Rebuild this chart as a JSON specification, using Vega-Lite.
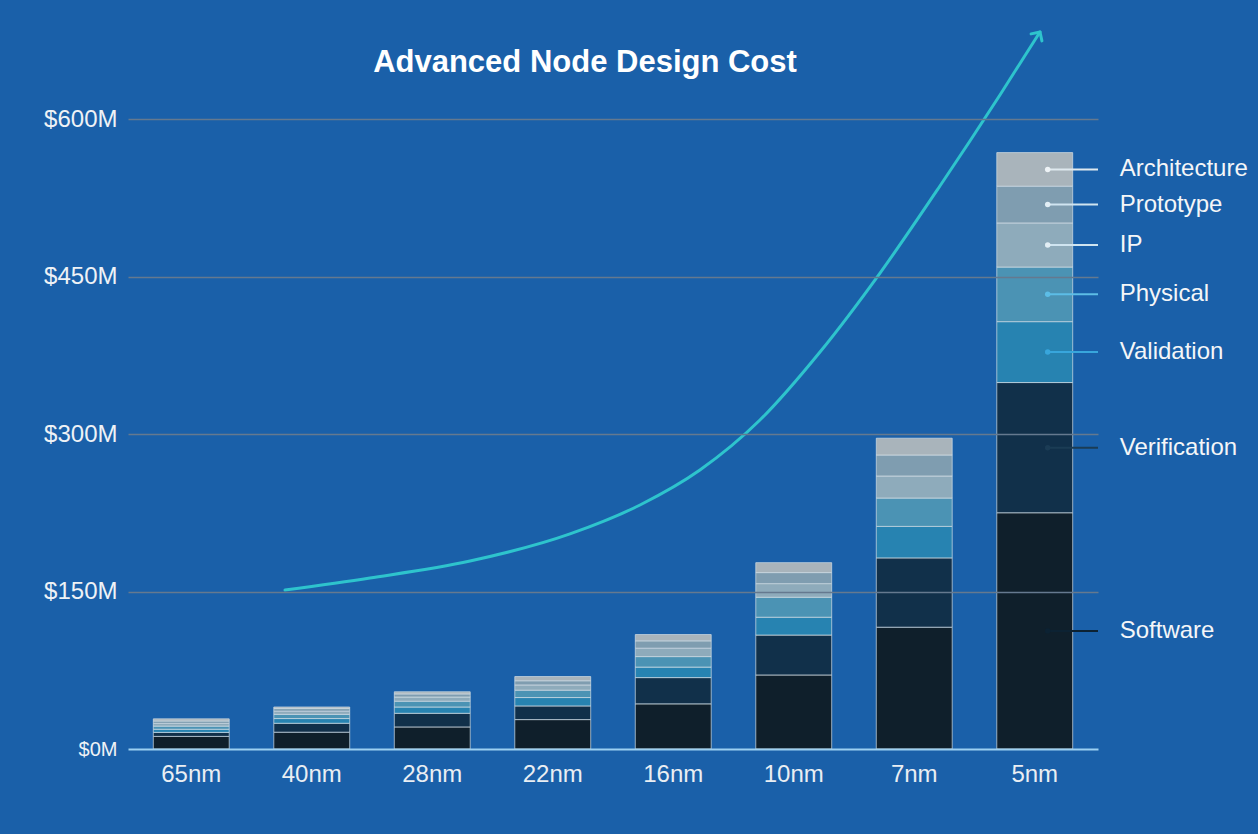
{
  "$schema": "https://vega.github.io/schema/vega-lite/v6.json",
  "width": 970,
  "height": 630,
  "autosize": {"type": "none"},
  "padding": {"left": 128, "top": 119, "right": 160, "bottom": 85},
  "background": "#1a60a9",
  "config": {"view": {"stroke": null}, "font": "Liberation Sans", "text": {"font": "Liberation Sans"}},
  "title": {"text": "Advanced Node Design Cost", "fontSize": 31, "fontWeight": "bold", "color": "#ffffff", "font": "Liberation Sans", "anchor": "middle", "dx": -28, "offset": -77, "baseline": "alphabetic"},
  "datasets": {
    "costs": [
      {"node": "65nm", "segment": "Software", "cost": 12},
      {"node": "65nm", "segment": "Verification", "cost": 3.8},
      {"node": "65nm", "segment": "Validation", "cost": 3},
      {"node": "65nm", "segment": "Physical", "cost": 3},
      {"node": "65nm", "segment": "IP", "cost": 2.6},
      {"node": "65nm", "segment": "Prototype", "cost": 2.3},
      {"node": "65nm", "segment": "Architecture", "cost": 2},
      {"node": "40nm", "segment": "Software", "cost": 16},
      {"node": "40nm", "segment": "Verification", "cost": 8.5},
      {"node": "40nm", "segment": "Validation", "cost": 4.5},
      {"node": "40nm", "segment": "Physical", "cost": 4},
      {"node": "40nm", "segment": "IP", "cost": 3},
      {"node": "40nm", "segment": "Prototype", "cost": 2.5},
      {"node": "40nm", "segment": "Architecture", "cost": 1.5},
      {"node": "28nm", "segment": "Software", "cost": 21},
      {"node": "28nm", "segment": "Verification", "cost": 13},
      {"node": "28nm", "segment": "Validation", "cost": 6},
      {"node": "28nm", "segment": "Physical", "cost": 5.5},
      {"node": "28nm", "segment": "IP", "cost": 4},
      {"node": "28nm", "segment": "Prototype", "cost": 3},
      {"node": "28nm", "segment": "Architecture", "cost": 2},
      {"node": "22nm", "segment": "Software", "cost": 28},
      {"node": "22nm", "segment": "Verification", "cost": 13},
      {"node": "22nm", "segment": "Validation", "cost": 8},
      {"node": "22nm", "segment": "Physical", "cost": 7},
      {"node": "22nm", "segment": "IP", "cost": 5},
      {"node": "22nm", "segment": "Prototype", "cost": 4},
      {"node": "22nm", "segment": "Architecture", "cost": 4},
      {"node": "16nm", "segment": "Software", "cost": 43},
      {"node": "16nm", "segment": "Verification", "cost": 25},
      {"node": "16nm", "segment": "Validation", "cost": 10},
      {"node": "16nm", "segment": "Physical", "cost": 10},
      {"node": "16nm", "segment": "IP", "cost": 8},
      {"node": "16nm", "segment": "Prototype", "cost": 7},
      {"node": "16nm", "segment": "Architecture", "cost": 6},
      {"node": "10nm", "segment": "Software", "cost": 70.5},
      {"node": "10nm", "segment": "Verification", "cost": 38},
      {"node": "10nm", "segment": "Validation", "cost": 17},
      {"node": "10nm", "segment": "Physical", "cost": 19},
      {"node": "10nm", "segment": "IP", "cost": 13},
      {"node": "10nm", "segment": "Prototype", "cost": 10.5},
      {"node": "10nm", "segment": "Architecture", "cost": 9.5},
      {"node": "7nm", "segment": "Software", "cost": 116},
      {"node": "7nm", "segment": "Verification", "cost": 66},
      {"node": "7nm", "segment": "Validation", "cost": 30},
      {"node": "7nm", "segment": "Physical", "cost": 27},
      {"node": "7nm", "segment": "IP", "cost": 21},
      {"node": "7nm", "segment": "Prototype", "cost": 20},
      {"node": "7nm", "segment": "Architecture", "cost": 16},
      {"node": "5nm", "segment": "Software", "cost": 225},
      {"node": "5nm", "segment": "Verification", "cost": 124},
      {"node": "5nm", "segment": "Validation", "cost": 58},
      {"node": "5nm", "segment": "Physical", "cost": 52},
      {"node": "5nm", "segment": "IP", "cost": 42},
      {"node": "5nm", "segment": "Prototype", "cost": 35},
      {"node": "5nm", "segment": "Architecture", "cost": 32}
    ],
    "trend": [
      {"nodeIndex": 0.79, "cost": 151.4},
      {"nodeIndex": 1.496, "cost": 162.9},
      {"nodeIndex": 2.328, "cost": 179.0},
      {"nodeIndex": 3.159, "cost": 204.8},
      {"nodeIndex": 3.741, "cost": 232.4},
      {"nodeIndex": 4.239, "cost": 265.7},
      {"nodeIndex": 4.738, "cost": 313.3},
      {"nodeIndex": 5.237, "cost": 378.1},
      {"nodeIndex": 5.736, "cost": 453.3},
      {"nodeIndex": 6.234, "cost": 536.2},
      {"nodeIndex": 6.733, "cost": 622.9},
      {"nodeIndex": 7.066, "cost": 682.9}
    ]
  },
  "layer": [
    {
      "data": {"name": "costs"},
      "transform": [
        {"calculate": "indexof(['Software','Verification','Validation','Physical','IP','Prototype','Architecture'], datum.segment)", "as": "rank"},
        {"stack": "cost", "groupby": ["node"], "sort": [{"field": "rank", "order": "ascending"}], "as": ["c0", "c1"]},
        {"calculate": "(datum.c0 + datum.c1) / 2", "as": "mid"}
      ],
      "layer": [
        {
          "mark": {"type": "bar", "stroke": "#d3dee6", "strokeWidth": 1, "strokeOpacity": 0.7},
          "encoding": {
            "x": {
              "field": "node", "type": "nominal",
              "sort": ["65nm", "40nm", "28nm", "22nm", "16nm", "10nm", "7nm", "5nm"],
              "scale": {"paddingInner": 0.37, "paddingOuter": 0.21},
              "axis": {"title": null, "labelAngle": 0, "labelFontSize": 24, "labelColor": "#e9eef3", "labelPadding": 13, "ticks": false, "domain": false, "labelFont": "Liberation Sans"}
            },
            "y": {
              "field": "c0", "type": "quantitative",
              "scale": {"domain": [0, 600], "nice": false},
              "axis": {
                "title": null,
                "values": [0, 150, 300, 450, 600],
                "labelExpr": "'$' + datum.value + 'M'",
                "labelFontSize": {"condition": {"test": "datum.value === 0", "value": 20}, "value": 24},
                "labelFont": "Liberation Sans",
                "labelColor": "#eef2f6",
                "labelPadding": 11,
                "ticks": false,
                "domain": false,
                "grid": true,
                "gridColor": {"condition": {"test": "datum.value === 0", "value": "#9cd0f2"}, "value": "#65798f"},
                "gridWidth": {"condition": {"test": "datum.value === 0", "value": 2}, "value": 1.5},
                "zindex": 1
              }
            },
            "y2": {"field": "c1"},
            "color": {
              "field": "segment", "type": "nominal",
              "scale": {
                "domain": ["Software", "Verification", "Validation", "Physical", "IP", "Prototype", "Architecture"],
                "range": ["#0f1f2b", "#11304a", "#2783b1", "#4b93b4", "#8eabbb", "#7f9db0", "#a9b4bb"]
              },
              "legend": null
            }
          }
        },
        {
          "transform": [{"filter": "datum.node === '5nm'"}],
          "mark": {"type": "text", "align": "left", "baseline": "middle", "dx": 85, "fontSize": 24, "color": "#f4f6f8", "font": "Liberation Sans"},
          "encoding": {
            "x": {"field": "node", "type": "nominal", "sort": ["65nm", "40nm", "28nm", "22nm", "16nm", "10nm", "7nm", "5nm"]},
            "y": {"field": "mid", "type": "quantitative", "scale": {"domain": [0, 600], "nice": false}},
            "text": {"field": "segment"}
          }
        }
      ]
    },
    {
      "layer": [
        {
          "data": {"name": "costs"},
          "transform": [
            {"calculate": "indexof(['Software','Verification','Validation','Physical','IP','Prototype','Architecture'], datum.segment)", "as": "rank"},
            {"stack": "cost", "groupby": ["node"], "sort": [{"field": "rank", "order": "ascending"}], "as": ["c0", "c1"]},
            {"calculate": "(datum.c0 + datum.c1) / 2", "as": "mid"},
            {"filter": "datum.node === '5nm'"}
          ],
          "mark": {"type": "rule", "strokeWidth": 2},
          "encoding": {
            "x": {"datum": 7.13, "type": "quantitative", "scale": {"domain": [-0.515, 7.548], "nice": false, "zero": false}, "axis": null},
            "x2": {"datum": 7.548},
            "y": {"field": "mid", "type": "quantitative", "scale": {"domain": [0, 600], "nice": false}},
            "stroke": {
              "field": "segment", "type": "nominal",
              "scale": {
                "domain": ["Software", "Verification", "Validation", "Physical", "IP", "Prototype", "Architecture"],
                "range": ["#0c2233", "#1b3c55", "#38a6dc", "#5cbde6", "#cfe4f0", "#cfe4f0", "#dfe9ef"]
              },
              "legend": null
            }
          }
        },
        {
          "data": {"name": "costs"},
          "transform": [
            {"calculate": "indexof(['Software','Verification','Validation','Physical','IP','Prototype','Architecture'], datum.segment)", "as": "rank"},
            {"stack": "cost", "groupby": ["node"], "sort": [{"field": "rank", "order": "ascending"}], "as": ["c0", "c1"]},
            {"calculate": "(datum.c0 + datum.c1) / 2", "as": "mid"},
            {"filter": "datum.node === '5nm'"}
          ],
          "mark": {"type": "point", "filled": true, "size": 30, "opacity": 1},
          "encoding": {
            "x": {"datum": 7.13, "type": "quantitative", "scale": {"domain": [-0.515, 7.548], "nice": false, "zero": false}, "axis": null},
            "y": {"field": "mid", "type": "quantitative", "scale": {"domain": [0, 600], "nice": false}},
            "fill": {
              "field": "segment", "type": "nominal",
              "scale": {
                "domain": ["Software", "Verification", "Validation", "Physical", "IP", "Prototype", "Architecture"],
                "range": ["#0c2233", "#1b3c55", "#38a6dc", "#5cbde6", "#e2eef5", "#e2eef5", "#eef3f6"]
              },
              "legend": null
            }
          }
        },
        {
          "data": {"name": "trend"},
          "mark": {"type": "line", "interpolate": "monotone", "strokeWidth": 3, "color": "#2ec4cd", "strokeCap": "round"},
          "encoding": {
            "x": {"field": "nodeIndex", "type": "quantitative", "scale": {"domain": [-0.515, 7.548], "nice": false, "zero": false}, "axis": null},
            "y": {"field": "cost", "type": "quantitative", "scale": {"domain": [0, 600], "nice": false}}
          }
        },
        {
          "data": {"name": "trend"},
          "transform": [{"filter": "datum.nodeIndex > 7"}],
          "mark": {"type": "point", "shape": "M-0.8,0.8L0,0L0.8,0.8", "filled": false, "size": 260, "strokeWidth": 3, "color": "#2ec4cd", "angle": 33, "opacity": 1, "strokeCap": "round", "strokeJoin": "round"},
          "encoding": {
            "x": {"field": "nodeIndex", "type": "quantitative", "scale": {"domain": [-0.515, 7.548], "nice": false, "zero": false}, "axis": null},
            "y": {"field": "cost", "type": "quantitative", "scale": {"domain": [0, 600], "nice": false}}
          }
        }
      ]
    }
  ],
  "resolve": {"scale": {"x": "independent"}}
}
